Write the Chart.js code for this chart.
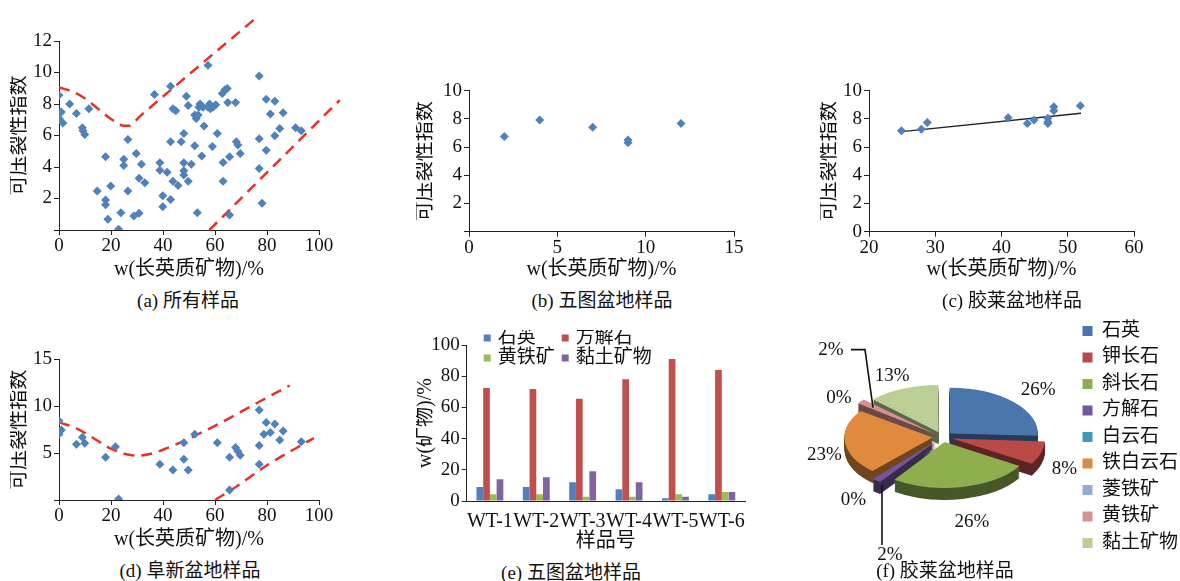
<!DOCTYPE html>
<html>
<head>
<meta charset="utf-8">
<script src="https://cdn.jsdelivr.net/npm/chart.js@4.4.0/dist/chart.umd.min.js"></script>
<style>
  body { margin: 0; width: 1180px; height: 581px; background: #fff; position: relative; overflow: hidden;
         font-family: "Liberation Serif", "Noto Sans CJK SC", serif; }
  canvas { position: absolute; }
  .cap { position: absolute; font-size: 19px; color: #111; white-space: nowrap; transform: translate(-50%, -50%); }
</style>
</head>
<body>
<canvas id="chartA" width="340" height="280" style="left:10px;top:0px"></canvas>
<canvas id="chartB" width="344" height="210" style="left:416px;top:70px"></canvas>
<canvas id="chartC" width="350" height="210" style="left:820px;top:70px"></canvas>
<canvas id="chartD" width="340" height="220" style="left:10px;top:330px"></canvas>
<canvas id="chartE" width="340" height="222" style="left:416px;top:330px"></canvas>
<canvas id="chartF" width="408" height="270" style="left:780px;top:300px"></canvas>
<div class="cap" style="left:188px;top:298px">(a) 所有样品</div>
<div class="cap" style="left:602px;top:298px">(b) 五图盆地样品</div>
<div class="cap" style="left:1012px;top:298px">(c) 胶莱盆地样品</div>
<div class="cap" style="left:190px;top:568px">(d) 阜新盆地样品</div>
<div class="cap" style="left:571px;top:570px">(e) 五图盆地样品</div>
<div class="cap" style="left:945px;top:568px">(f) 胶莱盆地样品</div>
<script>
// (a) all samples
const allX = [0, 0, 0.9, 1.5, 4.1, 6.7, 9, 9.2, 9.9, 11.5,
  14.7, 17.9, 17.9, 17.9, 18.8, 19.9, 22.9, 23.8, 24.9, 24.9,
  26.5, 26.5, 28.8, 29.7, 30.8, 30.8, 31.7, 33, 36.7, 38.8,
  38.8, 39.9, 39.9, 41.6, 42.9, 42.9, 42.9, 43.8, 43.8, 44.9,
  45.8, 47, 48, 48, 48, 48, 49, 49.7, 49.7, 50.9,
  52.2, 52.2, 52.8, 53.2, 53.5, 53.8, 54.2, 54.7, 54.9, 55.4,
  55.8, 57.3, 57.3, 57.9, 58.2, 59, 59.2, 60.3, 60.9, 62.8,
  63.1, 63.1, 63.8, 64.7, 64.9, 65.6, 65.6, 67.9, 68.2, 68.8,
  69.7, 77, 77, 77, 78.1, 79.7, 79.7, 81.3, 83, 83,
  84.9, 86.2, 91, 93.2];
const allY = [8.56, 7.08, 7.5, 6.8, 8.0, 7.4, 6.5, 6.3, 6.07, 7.7,
  2.47, 4.65, 1.9, 1.6, 0.68, 2.8, 0.05, 1.1, 4.5, 4.1,
  5.75, 2.47, 0.89, 4.86, 3.28, 1.06, 4.18, 3.0, 8.6, 4.27,
  3.8, 2.18, 1.48, 3.66, 9.13, 5.6, 1.94, 7.7, 3.1, 7.57,
  2.83, 5.6, 6.13, 4.27, 3.76, 3.5, 8.5, 7.9, 3.1, 4.18,
  5.35, 7.3, 7.08, 1.1, 7.3, 7.8, 8.0, 7.9, 4.7, 7.8,
  6.6, 10.46, 7.8, 8.0, 7.7, 5.3, 7.8, 7.96, 6.13, 8.67,
  4.29, 3.1, 8.9, 8.98, 8.1, 4.65, 0.95, 8.1, 5.6, 5.4,
  4.86, 9.77, 5.8, 3.9, 1.7, 8.3, 5.07, 7.36, 8.18, 5.98,
  6.45, 7.44, 6.5, 6.3];
const allUpperX = [0, 5, 10, 15, 20, 25, 27, 31, 76];
const allUpperY = [9.05, 8.8, 8.35, 7.7, 7.05, 6.62, 6.62, 7.2, 13.5];
const allLowerX = [57.8, 108];
const allLowerY = [0, 8.25];

// (b) Wutu basin
const wutuX = [2, 4, 7, 9, 9, 12];
const wutuY = [6.75, 7.92, 7.4, 6.5, 6.3, 7.68];

// (c) Jiaolai basin + trend line
const jiaolaiX = [24.9, 27.9, 28.8, 41, 43.9, 44.9, 47, 47, 47, 47.9, 47.9, 51.9];
const jiaolaiY = [7.16, 7.26, 7.75, 8.08, 7.68, 7.92, 8.04, 7.8, 7.68, 8.87, 8.58, 8.94];
const trendX = [25, 52];
const trendY = [7.1, 8.4];

// (d) Fuxin basin
const fuxinX = [0, 0, 0.9, 6.7, 9, 9.9, 17.9, 21.7, 22.9, 38.8, 43.8, 48, 48, 49.7, 52.2, 60.9,
  65.6, 65.6, 67.9, 68.8, 69.7, 77, 77, 77, 78.8, 79.7, 81.3, 83, 84.9, 86.2, 93.2];
const fuxinY = [8.46, 7.0, 7.47, 5.94, 6.7, 6.05, 4.55, 5.69, 0.1, 3.8, 3.2, 6.1, 4.34, 3.2, 7.0, 6.1,
  4.55, 1.07, 5.6, 5.2, 4.77, 9.6, 5.8, 3.8, 7.0, 8.25, 7.2, 8.1, 6.4, 7.36, 6.22];
const fuxinUpperX = [0, 6.7, 14.4, 20.1, 25.9, 30, 35, 41.3, 48.3, 59.2, 77.2, 88.7];
const fuxinUpperY = [8.28, 7.64, 6.4, 5.44, 4.87, 4.73, 4.9, 5.5, 6.33, 7.8, 10.5, 12.2];
const fuxinLowerX = [60, 67, 80, 98];
const fuxinLowerY = [0, 1.2, 3.7, 6.6];

// (e) Wutu basin minerals
const wutuSamples = ['WT-1', 'WT-2', 'WT-3', 'WT-4', 'WT-5', 'WT-6'];
const quartz = [9, 9, 12, 7.5, 1.8, 4.3];
const calcite = [72.5, 71.8, 65.6, 78, 91, 84];
const pyrite = [4.3, 4.3, 2.8, 2.8, 4.3, 5.8];
const clay = [14, 15.2, 19, 12, 2.8, 5.8];

// (f) Jiaolai basin minerals
const pieLabels = ['石英', '钾长石', '斜长石', '方解石', '白云石', '铁白云石', '菱铁矿', '黄铁矿', '黏土矿物'];
const pieValues = [26, 8, 26, 2, 0.3, 23, 0.3, 2, 13];

const serif = '"Liberation Serif", "Noto Sans CJK SC", serif';
const tickFont = { family: serif, size: 19 };
const titleFont = { family: serif, size: 20, lineHeight: 1 };
const blue = '#4F81BD';
const red = '#e8302a';

function pts(xs, ys) {
  return xs.map((x, i) => ({ x: x, y: ys[i] }));
}

function fixSize(size) {
  return function (scale) {
    if (scale.isHorizontal()) scale.height = size;
    else scale.width = size;
  };
}

function valueAxis(min, max, step, title, size, hideZero, pad) {
  return {
    type: 'linear', min: min, max: max,
    ticks: {
      stepSize: step, color: '#111', font: tickFont, padding: pad,
      callback: (v) => (hideZero && v === 0) ? '' : v
    },
    grid: { display: true, drawOnChartArea: false, drawTicks: true, tickLength: 5, color: '#222' },
    border: { display: true, color: '#222', width: 1 },
    title: { display: true, text: title, color: '#111', font: titleFont, padding: 0 },
    afterFit: fixSize(size)
  };
}

function dashed(xs, ys) {
  return {
    data: pts(xs, ys), showLine: true, pointRadius: 0, borderColor: red, borderWidth: 2.5,
    borderDash: [11, 7], cubicInterpolationMode: 'monotone', clip: false, fill: false
  };
}

function dots(xs, ys) {
  return { data: pts(xs, ys), pointStyle: 'rectRot', pointRadius: 4.5, backgroundColor: blue, borderWidth: 0 };
}

const xTitle = 'w(长英质矿物)/%';
const yTitle = '可压裂性指数';
const quiet = { legend: { display: false }, tooltip: { enabled: false } };

Chart.defaults.font.family = serif;
Chart.defaults.color = '#111';

new Chart(document.getElementById('chartA'), {
  type: 'scatter',
  data: { datasets: [dots(allX, allY), dashed(allUpperX, allUpperY), dashed(allLowerX, allLowerY)] },
  options: {
    responsive: false, animation: false,
    layout: { padding: { top: 41, right: 31, left: 0, bottom: 0 } },
    plugins: quiet,
    scales: {
      x: valueAxis(0, 100, 20, xTitle, 50, false, 0),
      y: valueAxis(0, 12, 2, yTitle, 49, true, 2)
    }
  }
});

new Chart(document.getElementById('chartB'), {
  type: 'scatter',
  data: { datasets: [dots(wutuX, wutuY)] },
  options: {
    responsive: false, animation: false,
    layout: { padding: { top: 20.7, right: 26, left: 0, bottom: 0 } },
    plugins: quiet,
    scales: {
      x: valueAxis(0, 15, 5, xTitle, 48.3, false, 0),
      y: valueAxis(0, 10, 2, yTitle, 53, true, 2)
    }
  }
});

new Chart(document.getElementById('chartC'), {
  type: 'scatter',
  data: {
    datasets: [
      dots(jiaolaiX, jiaolaiY),
      { data: pts(trendX, trendY), showLine: true, pointRadius: 0, borderColor: '#222', borderWidth: 1.3 }
    ]
  },
  options: {
    responsive: false, animation: false,
    layout: { padding: { top: 20.7, right: 36, left: 0, bottom: 0 } },
    plugins: quiet,
    scales: {
      x: valueAxis(20, 60, 10, xTitle, 48.3, false, 0),
      y: valueAxis(0, 10, 2, yTitle, 49, false, 2)
    }
  }
});

new Chart(document.getElementById('chartD'), {
  type: 'scatter',
  data: { datasets: [dots(fuxinX, fuxinY), dashed(fuxinUpperX, fuxinUpperY), dashed(fuxinLowerX, fuxinLowerY)] },
  options: {
    responsive: false, animation: false,
    layout: { padding: { top: 29.3, right: 31, left: 0, bottom: 0 } },
    plugins: quiet,
    scales: {
      x: valueAxis(0, 100, 20, xTitle, 50, false, 0),
      y: valueAxis(0, 15, 5, yTitle, 49, true, 2)
    }
  }
});

// two-by-two legend above the bars
const gridLegend = {
  id: 'gridLegend',
  afterDraw(chart) {
    const ctx = chart.ctx;
    const area = chart.chartArea;
    ctx.save();
    ctx.font = '19px ' + serif;
    ctx.textBaseline = 'middle';
    chart.data.datasets.forEach((ds, i) => {
      const x = area.left + 17 + (i % 2) * 78;
      const y = area.top - 7 + Math.floor(i / 2) * 20;
      ctx.fillStyle = ds.backgroundColor;
      ctx.fillRect(x, y - 3.5, 7, 7);
      ctx.fillStyle = '#111';
      ctx.fillText(ds.label, x + 14, y);
    });
    ctx.restore();
  }
};

const barYAxis = valueAxis(0, 100, 20, 'w(矿物)/%', 50.7, false, 2);
new Chart(document.getElementById('chartE'), {
  type: 'bar',
  data: {
    labels: wutuSamples,
    datasets: [
      { label: '石英', data: quartz, backgroundColor: '#4F81BD' },
      { label: '方解石', data: calcite, backgroundColor: '#C0504D' },
      { label: '黄铁矿', data: pyrite, backgroundColor: '#9BBB59' },
      { label: '黏土矿物', data: clay, backgroundColor: '#8064A2' }
    ]
  },
  options: {
    responsive: false, animation: false,
    layout: { padding: { top: 15, right: 11, left: 0, bottom: 0 } },
    datasets: { bar: { barPercentage: 1, categoryPercentage: 0.58 } },
    plugins: quiet,
    scales: {
      x: {
        ticks: { color: '#111', font: { family: serif, size: 20 }, padding: 1, maxRotation: 0, autoSkip: false },
        grid: { display: false },
        border: { display: true, color: '#222', width: 1 },
        title: { display: true, text: '样品号', color: '#111', font: titleFont, padding: 0 },
        afterFit: fixSize(51)
      },
      y: barYAxis
    }
  },
  plugins: [gridLegend]
});

// 3D look for the pie: squash vertically and stack darker copies below
const SQ = 0.52;
const DEPTH = 12;
const labelReach = [1.5, 1.45, 1.64, 0, 1.5, 1.35, 1.45, 0, 1.45];
const pie3d = {
  id: 'pie3d',
  beforeDatasetsDraw(chart) {
    const ctx = chart.ctx;
    const meta = chart.getDatasetMeta(0);
    const cy = meta.data[0].y;
    ctx.save();
    ctx.translate(0, cy);
    ctx.scale(1, SQ);
    ctx.translate(0, -cy);
    ctx.save();
    ctx.filter = 'brightness(0.5)';
    for (let d = DEPTH; d > 0; d--) {
      ctx.save();
      ctx.translate(0, d / SQ);
      meta.data.forEach((arc) => arc.draw(ctx));
      ctx.restore();
    }
    ctx.restore();
  },
  afterDatasetsDraw(chart) {
    const ctx = chart.ctx;
    ctx.restore();
    const meta = chart.getDatasetMeta(0);
    const values = chart.data.datasets[0].data;
    ctx.save();
    ctx.font = '19px ' + serif;
    ctx.fillStyle = '#111';
    ctx.strokeStyle = '#111';
    ctx.lineWidth = 1.6;
    ctx.textAlign = 'center';
    ctx.textBaseline = 'middle';
    meta.data.forEach((arc, i) => {
      const mid = (arc.startAngle + arc.endAngle) / 2;
      const R = arc.outerRadius;
      const c = Math.cos(mid), s = Math.sin(mid);
      const drop = s > 0 ? DEPTH : 0;
      const text = Math.round(values[i]) + '%';
      if (labelReach[i] > 0) {
        const r = R * labelReach[i];
        ctx.fillText(text, arc.x + c * r, arc.y + s * r * SQ + drop);
        return;
      }
      // small slice: label pulled out with a leader line
      const ax = arc.x + c * R;
      const ay = arc.y + s * R * SQ + drop;
      ctx.beginPath();
      if (s > 0) {
        const ly = ay + 70;
        ctx.moveTo(ax - 6, ay);
        ctx.lineTo(ax - 6, ly - 10);
        ctx.stroke();
        ctx.fillText(text, ax + 2, ly);
      } else {
        const ly = ay - 58;
        const lx = ax - 44;
        ctx.moveTo(ax - 2, ay);
        ctx.lineTo(ax - 10, ly);
        ctx.lineTo(lx + 20, ly);
        ctx.stroke();
        ctx.fillText(text, lx, ly);
      }
    });
    ctx.restore();
  }
};

new Chart(document.getElementById('chartF'), {
  type: 'pie',
  data: {
    labels: pieLabels,
    datasets: [{
      data: pieValues,
      backgroundColor: ['#4a76ad', '#b94a48', '#8fae4e', '#74579a', '#3f9ab5', '#e08a3e', '#90acd3', '#d49290', '#b9cf95'],
      borderWidth: 0,
      offset: 40
    }]
  },
  options: {
    responsive: false, animation: false,
    radius: 88,
    layout: { padding: { top: 7, bottom: 3, left: 30, right: 0 } },
    plugins: {
      tooltip: { enabled: false },
      legend: {
        position: 'right',
        labels: { font: { family: serif, size: 19 }, color: '#111', boxWidth: 10, boxHeight: 10, padding: 7.5 }
      }
    }
  },
  plugins: [pie3d]
});
</script>
</body>
</html>
